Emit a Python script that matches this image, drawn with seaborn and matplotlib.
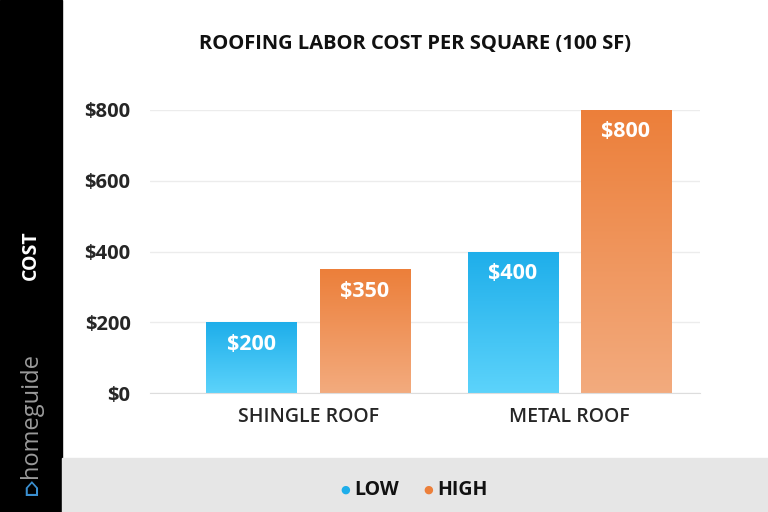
import numpy as np
import pandas as pd
import seaborn as sns
import matplotlib
matplotlib.use('Agg')
import matplotlib.pyplot as plt
from matplotlib.colors import LinearSegmentedColormap

categories = ["SHINGLE ROOF", "METAL ROOF"]
low_values = [200, 400]
high_values = [350, 800]
series = ["LOW", "HIGH"]
y_ticks = [0, 200, 400, 600, 800]

df = pd.DataFrame({
    "roof": categories * 2,
    "cost": low_values + high_values,
    "level": ["LOW"] * 2 + ["HIGH"] * 2,
})

sns.set_style("white")
plt.rcParams['font.family'] = ['Open Sans', 'DejaVu Sans']

fig = plt.figure(figsize=(7.68, 5.12), dpi=100)
ax = fig.add_axes([150 / 768, 1 - 393 / 512, 550 / 768, (393 - 110) / 512])

sns.barplot(data=df, x="roof", y="cost", hue="level", order=categories,
            hue_order=series, width=0.866, ax=ax, legend=False,
            palette=["#2bbcf0", "#f08a48"])

grads = {
    "LOW": LinearSegmentedColormap.from_list("l", ["#5cd3fb", "#1eaeea"]),
    "HIGH": LinearSegmentedColormap.from_list("h", ["#f3ab7e", "#ec7f3a"]),
}
grad = np.linspace(0, 1, 256).reshape(-1, 1)
for i, p in enumerate(ax.patches[:4]):
    lvl = series[i // 2]
    w = 0.345
    cx = p.get_x() + p.get_width() / 2
    p.set_x(cx - w / 2)
    p.set_width(w)
    p.set_facecolor("none")
    p.set_edgecolor("none")
    h = p.get_height()
    im = ax.imshow(grad, cmap=grads[lvl], aspect="auto", origin="lower",
                   extent=[cx - w / 2, cx + w / 2, 0, h], zorder=2)
    im.set_clip_path(p)
    ax.text(cx, h - 62, f"${int(h)}", ha="center", va="center", color="white",
            fontsize=15.5, fontweight="bold", zorder=3)

ax.set_xlim(-0.605, 1.5)
ax.set_ylim(0, 800)
ax.set_yticks(y_ticks)
ax.set_yticklabels([f"${v}" for v in y_ticks], fontsize=14.5, fontweight="bold")
ax.tick_params(axis="x", labelsize=14, pad=10, length=0)
ax.tick_params(axis="y", pad=14, length=0)
for lab in ax.get_xticklabels():
    lab.set_fontweight("semibold")
ax.set_xlabel("")
ax.set_ylabel("")
ax.grid(axis="y", color="#ececec", lw=1, zorder=0)
ax.set_axisbelow(True)
for s in ["top", "right", "left"]:
    ax.spines[s].set_visible(False)
ax.spines["bottom"].set_color("#dddddd")

fig.text(415 / 768, 1 - 44 / 512, "ROOFING LABOR COST PER SQUARE (100 SF)",
         ha="center", va="center", fontsize=14.5, fontweight="bold", color="#111111")

# left black strip
fig.patches.append(plt.Rectangle((0, 0), 62 / 768, 1, transform=fig.transFigure,
                                 color="black", zorder=0))
fig.text(31 / 768, 1 - 255 / 512, "COST", rotation=90, ha="center", va="center",
         color="white", fontsize=14, fontweight="bold")
fig.text(31 / 768, 1 - 415 / 512, "homeguide", rotation=90, ha="center", va="center",
         color="#9a9a9a", fontsize=17)
fig.text(31 / 768, 1 - 490 / 512, "⌂", rotation=0, ha="center", va="center",
         color="#3a8fd0", fontsize=18)

# bottom legend band
fig.patches.append(plt.Rectangle((62 / 768, 0), 1, 54 / 512, transform=fig.transFigure,
                                 color="#e6e6e6", zorder=0))
fig.text(345 / 768, 1 - 490 / 512, "●", color="#1eaeea", fontsize=8,
         ha="center", va="center")
fig.text(354 / 768, 1 - 490 / 512, "LOW", color="#111111", fontsize=14,
         ha="left", va="center", fontweight="bold")
fig.text(428 / 768, 1 - 490 / 512, "●", color="#ec7f3a", fontsize=8,
         ha="center", va="center")
fig.text(437 / 768, 1 - 490 / 512, "HIGH", color="#111111", fontsize=14,
         ha="left", va="center", fontweight="bold")

fig.savefig("out.png", dpi=100)
